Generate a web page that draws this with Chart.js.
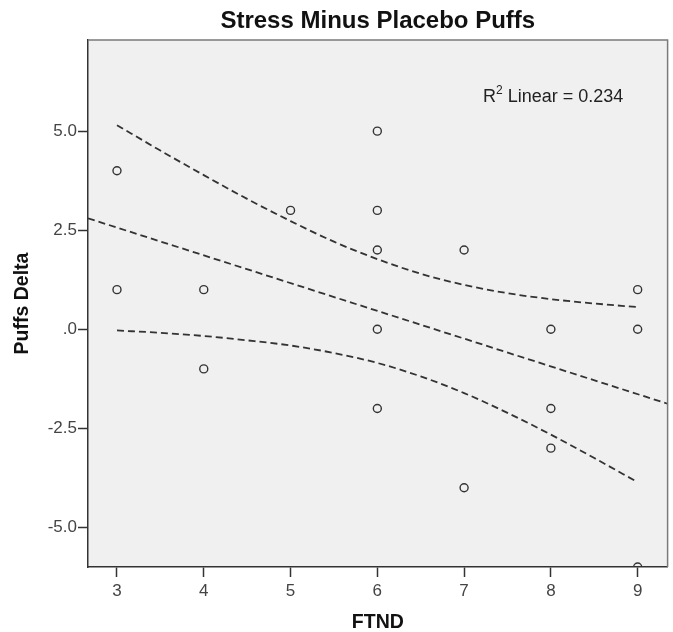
<!DOCTYPE html>
<html>
<head>
<meta charset="utf-8">
<script src="https://cdn.jsdelivr.net/npm/chart.js@4.4.1/dist/chart.umd.min.js"></script>
<style>
    html, body { margin: 0; padding: 0; background: #fff; }
    #wrap { width: 673px; height: 632px; }
</style>
</head>
<body>
<div id="wrap"><canvas id="chart" width="673" height="632"></canvas></div>
<script>
// observed cases (FTND, puffs delta)
const ftnd = [3, 3, 4, 4, 5, 6, 6, 6, 6, 6, 7, 7, 8, 8, 8, 9, 9, 9];
const puffsDelta = [4, 1, 1, -1, 3, 5, 3, 2, 0, -2, 2, -4, 0, -2, -3, 1, 0, -6];

// fit line end points
const fitX = [2.666, 9.345];
const fitY = [2.80, -1.88];

// mean confidence band, read at half steps
const bandX = [3, 3.5, 4, 4.5, 5, 5.5, 6, 6.5, 7, 7.5, 8, 8.5, 9];
const bandUpper = [5.15, 4.51, 3.89, 3.29, 2.73, 2.21, 1.77, 1.40, 1.12, 0.91, 0.76, 0.65, 0.56];
const bandLower = [-0.03, -0.09, -0.17, -0.28, -0.41, -0.60, -0.85, -1.19, -1.61, -2.11, -2.66, -3.25, -3.86];

const xTicks = [3, 4, 5, 6, 7, 8, 9];
const yTicks = [-5, -2.5, 0, 2.5, 5];
const chartTitle = "Stress Minus Placebo Puffs";
const r2Text = "0.234";

const FONT = "'Liberation Sans', Arial, sans-serif";
const INK = "#333";

const frame = {
    id: "frame",
    beforeDraw(chart) {
        const { ctx, chartArea: a } = chart;
        ctx.save();
        ctx.fillStyle = "#f0f0f0";
        ctx.fillRect(a.left, a.top, a.right - a.left, a.bottom - a.top);
        ctx.restore();
    },
    afterDraw(chart) {
        const { ctx, chartArea: a } = chart;
        ctx.save();
        ctx.strokeStyle = "#7a7a7a";
        ctx.lineWidth = 1.5;
        ctx.beginPath();
        ctx.moveTo(a.left, a.top);
        ctx.lineTo(a.right, a.top);
        ctx.lineTo(a.right, a.bottom);
        ctx.stroke();

        // title, centred over the plot area
        ctx.fillStyle = "#111";
        ctx.font = "bold 24px " + FONT;
        ctx.textAlign = "center";
        ctx.textBaseline = "alphabetic";
        ctx.fillText(chartTitle, (a.left + a.right) / 2, 28);

        // R squared note
        ctx.textAlign = "left";
        ctx.fillStyle = "#222";
        let x = 483, y = 102;
        ctx.font = "18px " + FONT;
        ctx.fillText("R", x, y);
        x += ctx.measureText("R").width;
        ctx.font = "12px " + FONT;
        ctx.fillText("2", x, y - 8);
        x += ctx.measureText("2").width;
        ctx.font = "18px " + FONT;
        ctx.fillText(" Linear = " + r2Text, x, y);
        ctx.restore();
    }
};

const dashed = {
    type: "line",
    borderColor: INK,
    borderWidth: 1.8,
    borderDash: [7, 4],
    pointRadius: 0,
    fill: false,
    clip: 0
};

new Chart(document.getElementById("chart").getContext("2d"), {
    type: "scatter",
    data: {
        datasets: [
            {
                label: "Puffs",
                data: ftnd.map((x, i) => ({ x: x, y: puffsDelta[i] })),
                pointRadius: 4,
                pointBorderWidth: 1.4,
                pointBorderColor: INK,
                pointBackgroundColor: "rgba(0,0,0,0)",
                clip: 0
            },
            Object.assign({ label: "Fit", data: fitX.map((x, i) => ({ x: x, y: fitY[i] })) }, dashed),
            Object.assign({ label: "Upper", data: bandX.map((x, i) => ({ x: x, y: bandUpper[i] })), cubicInterpolationMode: "monotone" }, dashed),
            Object.assign({ label: "Lower", data: bandX.map((x, i) => ({ x: x, y: bandLower[i] })), cubicInterpolationMode: "monotone" }, dashed)
        ]
    },
    options: {
        responsive: false,
        animation: false,
        layout: { padding: { left: 0, right: 5, top: 40, bottom: 0 } },
        plugins: {
            legend: { display: false },
            tooltip: { enabled: false }
        },
        scales: {
            x: {
                type: "linear",
                min: 2.666,
                max: 9.345,
                afterBuildTicks: s => { s.ticks = xTicks.map(v => ({ value: v })); },
                afterFit: s => { s.height = 65; },
                ticks: { color: "#444", font: { family: FONT, size: 17 }, padding: 4 },
                grid: { drawOnChartArea: false, tickLength: 10, color: INK, tickWidth: 1.5 },
                border: { color: INK, width: 1.5 },
                title: {
                    display: true,
                    text: "FTND",
                    color: "#111",
                    font: { family: FONT, size: 19.5, weight: "bold" },
                    padding: { top: 4, bottom: -2 }
                }
            },
            y: {
                type: "linear",
                min: -6,
                max: 7.3,
                afterBuildTicks: s => { s.ticks = yTicks.map(v => ({ value: v })); },
                afterFit: s => { s.width = 88; },
                ticks: {
                    color: "#444",
                    font: { family: FONT, size: 17 },
                    padding: 1,
                    callback: v => v === 0 ? ".0" : v.toFixed(1)
                },
                grid: { drawOnChartArea: false, tickLength: 10, color: INK, tickWidth: 1.5 },
                border: { color: INK, width: 1.5 },
                title: {
                    display: true,
                    text: "Puffs Delta",
                    color: "#111",
                    font: { family: FONT, size: 19.5, weight: "bold" },
                    padding: { top: 11, bottom: 0 }
                }
            }
        }
    },
    plugins: [frame]
});
</script>
</body>
</html>
